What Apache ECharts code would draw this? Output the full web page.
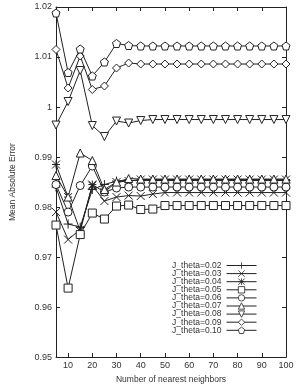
<!DOCTYPE html>
<html>
<head>
<meta charset="utf-8">
<script src="https://cdn.jsdelivr.net/npm/echarts@6/dist/echarts.min.js"></script>
<style>
html, body { margin: 0; padding: 0; background: #fff; }
#main { width: 298px; height: 389px; }
</style>
</head>
<body>
<div id="main"></div>
<script>
var main = document.getElementById('main');

// neighbours on the x axis
var neighbors = [5, 10, 15, 20, 25, 30, 35, 40, 45, 50, 55, 60, 65, 70, 75, 80, 85, 90, 95, 100];
var xTicks = [10, 20, 30, 40, 50, 60, 70, 80, 90, 100];

var mae002 = [0.9840, 0.9766, 0.9760, 0.9835, 0.9845, 0.9852, 0.9853, 0.9853, 0.9853, 0.9853, 0.9853, 0.9853, 0.9853, 0.9853, 0.9853, 0.9853, 0.9853, 0.9853, 0.9853, 0.9853];
var mae003 = [0.9790, 0.9735, 0.9755, 0.9843, 0.9812, 0.9820, 0.9823, 0.9822, 0.9826, 0.9829, 0.9829, 0.9829, 0.9829, 0.9829, 0.9829, 0.9829, 0.9829, 0.9829, 0.9829, 0.9829];
var mae004 = [0.9885, 0.9820, 0.9752, 0.9845, 0.9830, 0.9850, 0.9852, 0.9855, 0.9855, 0.9855, 0.9855, 0.9855, 0.9855, 0.9855, 0.9855, 0.9855, 0.9855, 0.9855, 0.9855, 0.9855];
var mae005 = [0.9764, 0.9638, 0.9745, 0.9788, 0.9776, 0.9802, 0.9804, 0.9795, 0.9796, 0.9803, 0.9803, 0.9803, 0.9803, 0.9803, 0.9803, 0.9803, 0.9803, 0.9803, 0.9803, 0.9803];
var mae006 = [0.9845, 0.9790, 0.9843, 0.9882, 0.9830, 0.9838, 0.9840, 0.9840, 0.9840, 0.9840, 0.9840, 0.9840, 0.9840, 0.9840, 0.9840, 0.9840, 0.9840, 0.9840, 0.9840, 0.9840];
var mae007 = [0.9863, 0.9820, 0.9908, 0.9893, 0.9835, 0.9850, 0.9857, 0.9856, 0.9856, 0.9856, 0.9856, 0.9856, 0.9856, 0.9856, 0.9856, 0.9856, 0.9856, 0.9856, 0.9856, 0.9856];
var mae008 = [0.9964, 1.0011, 1.0073, 0.9963, 0.9941, 0.9972, 0.9968, 0.9973, 0.9975, 0.9975, 0.9975, 0.9975, 0.9975, 0.9975, 0.9975, 0.9975, 0.9975, 0.9975, 0.9975, 0.9975];
var mae009 = [1.0115, 1.0038, 1.0102, 1.0035, 1.0042, 1.0078, 1.0088, 1.0086, 1.0086, 1.0086, 1.0086, 1.0086, 1.0086, 1.0086, 1.0086, 1.0086, 1.0086, 1.0086, 1.0086, 1.0086];
var mae010 = [1.0188, 1.0069, 1.0116, 1.0062, 1.0090, 1.0127, 1.0123, 1.0122, 1.0122, 1.0122, 1.0122, 1.0122, 1.0122, 1.0122, 1.0122, 1.0122, 1.0122, 1.0122, 1.0122, 1.0122];

var names = ['J_theta=0.02', 'J_theta=0.03', 'J_theta=0.04', 'J_theta=0.05', 'J_theta=0.06',
    'J_theta=0.07', 'J_theta=0.08', 'J_theta=0.09', 'J_theta=0.10'];
var values = [mae002, mae003, mae004, mae005, mae006, mae007, mae008, mae009, mae010];

// gnuplot-ish point types
var symbols = [
    { s: 'path://M5,0L5,10M0,5L10,5', size: 9 },
    { s: 'path://M0,0L10,10M10,0L0,10', size: 8 },
    { s: 'path://M0,0L10,10M10,0L0,10M0,5L10,5M5,0L5,10', size: 8 },
    { s: 'rect', size: 8 },
    { s: 'circle', size: 8 },
    { s: 'triangle', size: 8 },
    { s: 'path://M0,0L10,0L5,9Z', size: 8 },
    { s: 'diamond', size: 8 },
    { s: 'path://M5,0L10,3.8L8.1,10L1.9,10L0,3.8Z', size: 8 }
];

var ink = '#222';
var font = 'Liberation Sans, Arial, sans-serif';

var series = names.map(function (n, i) {
    return {
        name: n,
        type: 'line',
        data: neighbors.map(function (x, j) { return [x, values[i][j]]; }),
        symbol: symbols[i].s,
        symbolSize: symbols[i].size,
        showAllSymbol: true,
        lineStyle: { color: ink, width: 1 },
        itemStyle: { color: '#fff', borderColor: ink, borderWidth: 1 },
        emphasis: { disabled: true },
        z: 2 + i
    };
});

var myChart = echarts.init(main, null, { renderer: 'canvas' });
myChart.setOption({
    animation: false,
    backgroundColor: '#fff',
    grid: { left: 48, right: 12, top: 7, bottom: 27, containLabel: false },
    legend: {
        data: names,
        orient: 'vertical',
        right: 41,
        top: 261,
        align: 'right',
        itemWidth: 30,
        itemHeight: 8,
        itemGap: -0.9,
        padding: 0,
        itemStyle: { color: '#fff', borderColor: ink, borderWidth: 0.8 },
        lineStyle: { color: ink, width: 1 },
        textStyle: { fontSize: 8.5, lineHeight: 8, color: '#333', fontFamily: font, padding: [0, 0, 0, 0] },
        selectedMode: false
    },
    xAxis: [{
        type: 'value',
        min: 5,
        max: 100,
        name: 'Number of nearest neighbors',
        nameLocation: 'middle',
        nameGap: 17,
        nameTextStyle: { fontSize: 8.5, color: '#333', fontFamily: font },
        axisLine: { show: true, lineStyle: { color: ink, width: 1 } },
        axisTick: { show: true, inside: true, length: 4, customValues: xTicks, lineStyle: { color: ink } },
        axisLabel: { fontSize: 9, color: '#333', fontFamily: font, margin: 4, customValues: xTicks },
        splitLine: { show: false }
    }, {
        type: 'value',
        position: 'top',
        min: 5,
        max: 100,
        axisLine: { show: true, lineStyle: { color: ink, width: 1 } },
        axisTick: { show: true, inside: true, length: 4, customValues: xTicks, lineStyle: { color: ink } },
        axisLabel: { show: false },
        splitLine: { show: false }
    }],
    yAxis: [{
        type: 'value',
        min: 0.95,
        max: 1.02,
        interval: 0.01,
        name: 'Mean Absolute Error',
        nameLocation: 'middle',
        nameGap: 39,
        nameTextStyle: { fontSize: 8.5, color: '#333', fontFamily: font },
        axisLine: { show: true, lineStyle: { color: ink, width: 1 } },
        axisTick: { show: true, inside: true, length: 4, lineStyle: { color: ink } },
        axisLabel: { fontSize: 9, color: '#333', fontFamily: font, margin: 4,
            formatter: function (v) { return String(Math.round(v * 100) / 100); } },
        splitLine: { show: false }
    }, {
        type: 'value',
        position: 'right',
        min: 0.95,
        max: 1.02,
        interval: 0.01,
        axisLine: { show: true, lineStyle: { color: ink, width: 1 } },
        axisTick: { show: true, inside: true, length: 4, lineStyle: { color: ink } },
        axisLabel: { show: false },
        splitLine: { show: false }
    }],
    series: series
});
</script>
</body>
</html>
